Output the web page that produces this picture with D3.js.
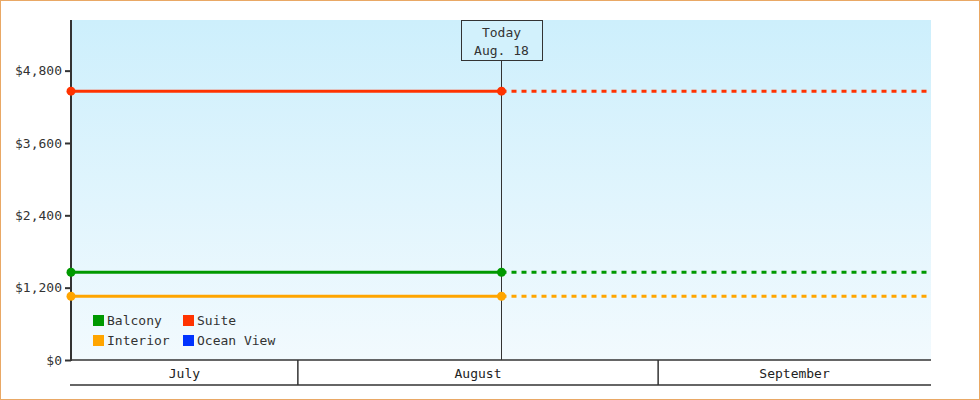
<!DOCTYPE html>
<html><head><meta charset="utf-8">
<script src="https://cdn.jsdelivr.net/npm/d3@7"></script>
<style>
html,body{margin:0;padding:0;background:#fff;}
svg{display:block;font-family:"DejaVu Sans Mono",monospace;}
</style></head>
<body>
<svg id="chart" width="980" height="400"></svg>
<script>
const categories = ["Balcony", "Suite", "Interior", "Ocean View"];
const colors = ["#009900", "#ff3300", "#ffa500", "#0033ff"];
const prices = [1455, 4460, 1057, null];
const yTicks = [0, 1200, 2400, 3600, 4800];
const months = ["July", "August", "September"];
const monthStarts = ["2023-07-12T11:30", "2023-08-01T00:00", "2023-09-01T00:00"];
const todayStr = "2023-08-18T11:30";
const endStr = "2023-09-24T11:30";
const todayLabel = ["Today", "Aug. 18"];
const yMax = 5640;

const parse = d3.isoParse;
const svg = d3.select("#chart");
const L = 71, R = 931, T = 20, B = 360;

svg.append("rect").attr("x",0.5).attr("y",0.5).attr("width",979).attr("height",399)
  .attr("fill","#fff").attr("stroke","#e9a865").attr("stroke-width",1);

const defs = svg.append("defs");
const grad = defs.append("linearGradient").attr("id","bg").attr("x1",0).attr("y1",0).attr("x2",0).attr("y2",1);
grad.append("stop").attr("offset","0%").attr("stop-color","#cdeffc");
grad.append("stop").attr("offset","100%").attr("stop-color","#f2fafe");

const x = d3.scaleTime().domain([parse(monthStarts[0]), parse(endStr)]).range([L, R]);
const y = d3.scaleLinear().domain([0, yMax]).range([B, T]);

svg.append("rect").attr("x",L).attr("y",T).attr("width",R-L).attr("height",B-T).attr("fill","url(#bg)");

// Bottom month band
const bounds = monthStarts.map(parse).concat([parse(endStr)]);
const band = svg.append("g");
band.append("line").attr("x1",L-1).attr("x2",R).attr("y1",385).attr("y2",385).attr("stroke","#333").attr("stroke-width",1.5);
for (let i = 1; i < months.length; i++) {
  band.append("line").attr("x1",x(bounds[i])).attr("x2",x(bounds[i])).attr("y1",B).attr("y2",385)
    .attr("stroke","#333").attr("stroke-width",1.5);
}
months.forEach((m,i)=>{
  band.append("text").attr("x",(x(bounds[i])+x(bounds[i+1]))/2).attr("y",378)
    .attr("text-anchor","middle").attr("font-size",13).attr("fill","#222").text(m);
});
band.append("line").attr("x1",L-1).attr("x2",R).attr("y1",B).attr("y2",B).attr("stroke","#333").attr("stroke-width",1.5);

// Y axis
const yAxis = d3.axisLeft(y).tickValues(yTicks).tickSize(6).tickPadding(3)
  .tickFormat(d => "$" + d3.format(",")(d));
const gy = svg.append("g").attr("transform",`translate(${L},0)`).call(yAxis);
gy.select(".domain").remove();
gy.selectAll(".tick line").attr("stroke","#333").attr("stroke-width",2);
gy.selectAll(".tick text").attr("font-size",13).attr("fill","#333").attr("font-family","DejaVu Sans Mono, monospace");
svg.append("line").attr("x1",L).attr("x2",L).attr("y1",T).attr("y2",B+1).attr("stroke","#333").attr("stroke-width",2);

// Today marker
const today = parse(todayStr);
const tx = Math.floor(x(today)) + 0.5;
svg.append("line").attr("x1",tx).attr("x2",tx).attr("y1",60).attr("y2",B).attr("stroke","#333").attr("stroke-width",1);
svg.append("rect").attr("x",tx-40).attr("y",20.5).attr("width",81).attr("height",40)
  .attr("fill","#d2f1fc").attr("stroke","#333").attr("stroke-width",1);
todayLabel.forEach((t,i)=>{
  svg.append("text").attr("x",tx).attr("y",37+i*18).attr("text-anchor","middle")
    .attr("font-size",13).attr("fill","#333").text(t);
});

// Series
const start = parse(monthStarts[0]), end = parse(endStr);
categories.forEach((c,i)=>{
  const v = prices[i];
  if (v == null) return;
  const g = svg.append("g");
  g.append("line").attr("x1",tx).attr("x2",x(end)).attr("y1",y(v)).attr("y2",y(v))
    .attr("stroke",colors[i]).attr("stroke-width",3).attr("stroke-dasharray","5,5");
  g.append("line").attr("x1",x(start)).attr("x2",tx).attr("y1",y(v)).attr("y2",y(v))
    .attr("stroke",colors[i]).attr("stroke-width",3);
  [x(start), tx].forEach(px=>{
    g.append("circle").attr("cx",px).attr("cy",y(v)).attr("r",4.5).attr("fill",colors[i]);
  });
});

// Legend
const leg = svg.append("g");
categories.forEach((c,i)=>{
  const col = i % 2, row = Math.floor(i/2);
  const lx = 93 + col*90, ly = 315 + row*20;
  leg.append("rect").attr("x",lx).attr("y",ly).attr("width",11).attr("height",11).attr("fill",colors[i]);
  leg.append("text").attr("x",lx+14).attr("y",ly+10).attr("font-size",13).attr("fill","#333").text(c);
});
</script>
</body></html>
